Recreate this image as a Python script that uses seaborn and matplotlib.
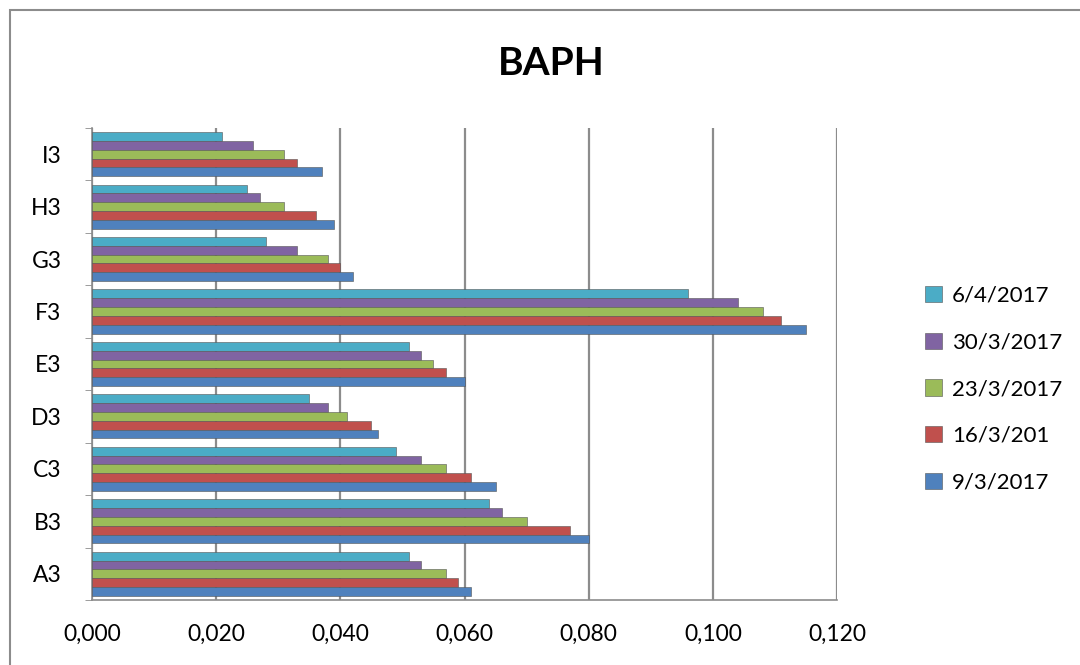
import pandas as pd
import matplotlib.pyplot as plt
import matplotlib.ticker as mticker
from matplotlib.patches import Rectangle
import seaborn as sns

# categories, bottom to top as shown in the chart
samples = ["A3", "B3", "C3", "D3", "E3", "F3", "G3", "H3", "I3"]
dates = ["9/3/2017", "16/3/201", "23/3/2017", "30/3/2017", "6/4/2017"]

d_09_03 = [0.061, 0.080, 0.065, 0.046, 0.060, 0.115, 0.042, 0.039, 0.037]
d_16_03 = [0.059, 0.077, 0.061, 0.045, 0.057, 0.111, 0.040, 0.036, 0.033]
d_23_03 = [0.057, 0.070, 0.057, 0.041, 0.055, 0.108, 0.038, 0.031, 0.031]
d_30_03 = [0.053, 0.066, 0.053, 0.038, 0.053, 0.104, 0.033, 0.027, 0.026]
d_06_04 = [0.051, 0.064, 0.049, 0.035, 0.051, 0.096, 0.028, 0.025, 0.021]

colors = {"9/3/2017": "#4F81BD", "16/3/201": "#C0504D", "23/3/2017": "#9BBB59",
          "30/3/2017": "#8064A2", "6/4/2017": "#4BACC6"}

series = [d_09_03, d_16_03, d_23_03, d_30_03, d_06_04]
rows = []
for date, vals in zip(dates, series):
    for s, v in zip(samples, vals):
        rows.append({"sample": s, "date": date, "value": v})
df = pd.DataFrame(rows)

sns.set_style("white")
plt.rcParams["font.family"] = ["Lato", "DejaVu Sans"]
plt.rcParams["text.color"] = "black"
plt.rcParams["xtick.labelcolor"] = "black"
plt.rcParams["ytick.labelcolor"] = "black"

fig = plt.figure(figsize=(10.8, 6.65), dpi=100)
ax = fig.add_axes([0.0852, 0.0977, 0.775 - 0.0852, 0.71])

hue_order = dates[::-1]
sns.barplot(data=df, x="value", y="sample", hue="date", orient="h",
            order=samples[::-1], hue_order=hue_order, palette=colors,
            width=0.84, errorbar=None, ax=ax, saturation=1,
            edgecolor="#555555", linewidth=0.4, zorder=3)

ax.set_xlim(0, 0.12)
ax.xaxis.set_major_locator(mticker.MultipleLocator(0.02))
ax.xaxis.set_major_formatter(mticker.FuncFormatter(lambda v, p: f"{v:.3f}".replace(".", ",")))
ax.grid(axis="x", color="#8c8c8c", linewidth=1.6, zorder=0)
ax.set_xlabel("")
ax.set_ylabel("")

for side in ["top", "right"]:
    ax.spines[side].set_visible(False)
for side in ["left", "bottom"]:
    ax.spines[side].set_color("#8c8c8c")
    ax.spines[side].set_linewidth(1.2)

# tick marks between groups on y, labels centred
ax.set_ylim(len(samples) - 0.5, -0.5)
ax.set_yticks([i - 0.5 for i in range(len(samples) + 1)], minor=True)
ax.tick_params(axis="y", which="major", length=0, labelsize=16.5, pad=22, labelcolor="black")
ax.tick_params(axis="y", which="minor", length=5, color="#8c8c8c", direction="out")
ax.tick_params(axis="x", length=5, color="#8c8c8c", labelsize=16.5, pad=12, direction="out",
               labelcolor="black")
ax.tick_params(left=True, which="minor")

fig.text(0.51, 0.905, "BAPH", ha="center", va="center", fontsize=28, fontweight="bold",
         color="black")

handles, labels = ax.get_legend_handles_labels()
leg = ax.legend(handles, labels, loc="upper left", bbox_to_anchor=(0.838, 0.6),
                bbox_transform=fig.transFigure, frameon=False, fontsize=16,
                handlelength=0.75, handleheight=0.75, handletextpad=0.45, labelspacing=1.2)
for t in leg.get_texts():
    t.set_color("black")

fig.patches.append(Rectangle((0.0093, -0.05), 1.2, 1.035, transform=fig.transFigure,
                             fill=False, edgecolor="#8c8c8c", linewidth=1.5))

fig.savefig("out.png", dpi=100, facecolor="white")
